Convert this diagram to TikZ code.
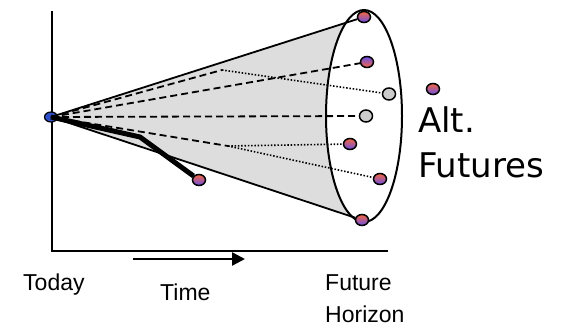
\documentclass[tikz,border=0pt]{standalone}
\usepackage{fontspec}
\setmainfont{Liberation Sans}
\newfontfamily\handfont{DejaVu Sans}
\usetikzlibrary{arrows.meta,positioning,shapes.geometric,backgrounds}

\definecolor{conegray}{HTML}{DDDDDD}
\definecolor{dotorange}{HTML}{F5673F}
\definecolor{dotpurple}{HTML}{6A4FE8}
\definecolor{startblue}{HTML}{2F4FC8}

\begin{document}
\begin{tikzpicture}[x=1pt, y=-1pt,
    future/.style={ellipse, draw, line width=1.5pt, inner sep=0pt, minimum width=13pt, minimum height=11pt, top color=dotorange, bottom color=dotpurple},
    faded/.style={ellipse, draw, line width=1.5pt, inner sep=0pt, minimum width=13pt, minimum height=12pt, fill=gray!40},
    scenario/.style={dash pattern=on 7pt off 4pt, line width=1.8pt},
    branch/.style={dash pattern=on 1.5pt off 1.8pt, line width=1.6pt},
    caption/.style={inner sep=0pt, font=\fontsize{23}{32}\selectfont}
]

\useasboundingbox (0,0) rectangle (565,326);

% Axes
\draw[line width=1.8pt] (52,11) -- (52,251) -- (388,251);

% Horizon of alternative futures
\node[ellipse, draw, line width=2pt, fill=white, minimum width=76pt, minimum height=212pt, inner sep=0pt] (Horizon) at (364,116) {};

% Today
\node[ellipse, draw=black, line width=1.2pt, fill=startblue, inner sep=0pt, minimum width=13pt, minimum height=10pt] (Today) at (51,117) {};

% Futures on the horizon
\node[future] (F1) at (364,17) {};
\node[future, top color=dotpurple, bottom color=dotorange] (F2) at (367,62) {};
\node[faded] (G1) at (389,94) {};
\node[faded] (G2) at (366,116) {};
\node[future] (F3) at (350,144) {};
\node[future] (F4) at (380,179) {};
\node[future] (F5) at (362,220) {};
\node[future] (Trail) at (199,180) {};

% Cone (behind the horizon)
\begin{scope}[on background layer]
\fill[conegray] (Today.center) -- (F1.center) -- (F5.center) -- cycle;
\end{scope}
\draw[line width=1.8pt] (Today.center) -- (F1);
\draw[line width=1.8pt] (Today.center) -- (F5);

% Scenarios
\coordinate (Fork1) at (222,70);
\coordinate (Fork2) at (228,146);
\draw[scenario] (Today.center) -- (Fork1);
\draw[branch] (Fork1) -- (G1);
\draw[scenario] (Today.center) -- (F2);
\draw[scenario] (Today.center) -- (G2);
\draw[scenario] (Today.center) -- (Fork2);
\draw[branch] (Fork2) -- (F3);
\draw[branch] (Fork2) -- (F4);

% Path taken so far
\coordinate (Bend) at (140,137);
\draw[line width=5pt, line join=round] (Today.center) -- (Bend) -- (Trail);

% Legend
\node[future] (Legend) at (433,89) {};
\node[inner sep=0pt, anchor=base west, font=\handfont\fontsize{34}{44}\selectfont] (AltTxt) at (418,133) {Alt.};
\node[inner sep=0pt, anchor=base west, font=\handfont\fontsize{34}{44}\selectfont] (FutTxt) at (418,177) {Futures};

% Time axis labels
\coordinate (TimeFrom) at (133,259);
\coordinate (TimeTo) at (245,259);
\draw[line width=2.5pt, -{Triangle[length=13pt, width=13pt]}] (TimeFrom) -- (TimeTo);
\node[caption, anchor=base west] (TodayTxt) at (23,290) {Today};
\node[caption, anchor=base west] (TimeTxt) at (160,300) {Time};
\node[caption, anchor=base west] (FutureTxt) at (325,290) {Future};
\node[caption, anchor=base west] (HorizonTxt) at (325,322) {Horizon};

\end{tikzpicture}
\end{document}
